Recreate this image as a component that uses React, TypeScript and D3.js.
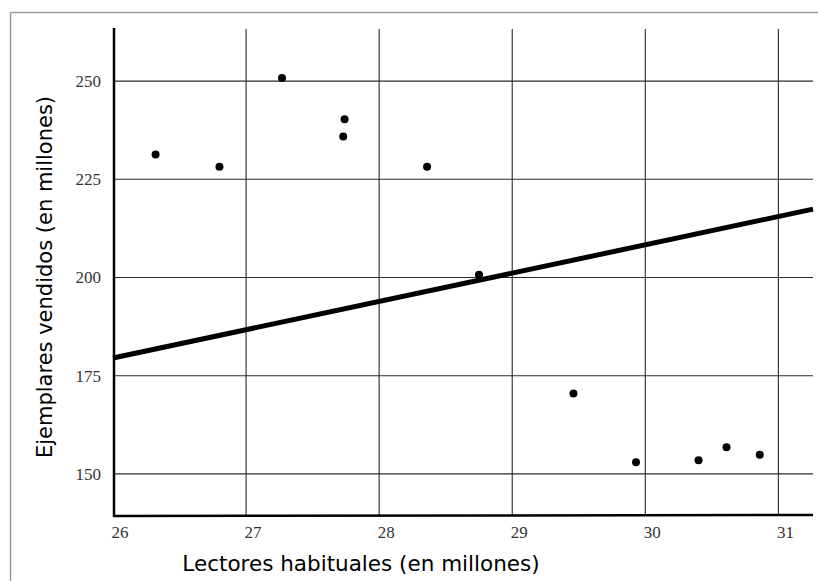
import React from "react";
import * as d3 from "d3";

const readersX: number[] = [26.32, 26.8, 27.27, 27.74, 27.73, 28.36, 28.75, 29.46, 29.93, 30.4, 30.61, 30.86];
const copiesY: number[] = [231.3, 228.2, 250.8, 240.3, 235.9, 228.2, 200.7, 170.5, 153.0, 153.5, 156.8, 154.9];
const xTicks: number[] = [26, 27, 28, 29, 30, 31];
const yTicks: number[] = [150, 175, 200, 225, 250];
const trendX: number[] = [26, 31.26];
const trendY: number[] = [179.5, 217.4];

const W = 818;
const H = 581;

export default function App() {
  const x = d3.scaleLinear().domain([26, 31.26]).range([113, 813]);
  const y = d3.scaleLinear().domain([139.3, 263.5]).range([516, 28]);
  const line = d3
    .line<number>()
    .x((_, i) => x(trendX[i]))
    .y((_, i) => y(trendY[i]));
  const labelFont = "'Liberation Serif', 'DejaVu Serif', serif";
  const titleFont = "'DejaVu Sans', Verdana, sans-serif";
  return (
    <svg
      width={W}
      height={H}
      style={{ position: "absolute", left: 0, top: 0, background: "#fff" }}
    >
      {/* frame */}
      <line x1={10.5} y1={12.5} x2={W} y2={12.5} stroke="#9a9a9a" strokeWidth={1.5} />
      <line x1={10.5} y1={12.5} x2={10.5} y2={H} stroke="#9a9a9a" strokeWidth={1.5} />

      {/* vertical grid */}
      {xTicks.slice(1).map((t) => (
        <line
          key={"vx" + t}
          x1={x(t)}
          x2={x(t)}
          y1={29}
          y2={516}
          stroke="#3a3a3a"
          strokeWidth={1.2}
        />
      ))}
      {/* horizontal grid */}
      {yTicks.map((t) => (
        <line
          key={"hy" + t}
          x1={113}
          x2={813}
          y1={y(t)}
          y2={y(t)}
          stroke="#2a2a2a"
          strokeWidth={1.2}
        />
      ))}

      {/* axes */}
      <line x1={113} x2={813} y1={516} y2={515} stroke="#000" strokeWidth={2.5} />
      <line x1={114} x2={114} y1={28} y2={517} stroke="#000" strokeWidth={2.5} />

      {/* tick labels */}
      {yTicks.map((t) => (
        <text
          key={"yl" + t}
          x={101}
          y={y(t)}
          dy="0.35em"
          textAnchor="end"
          fontFamily={labelFont}
          fontSize={17}
          fill="#333"
        >
          {t}
        </text>
      ))}
      {xTicks.map((t) => (
        <text
          key={"xl" + t}
          x={x(t) + 7}
          y={538}
          textAnchor="middle"
          fontFamily={labelFont}
          fontSize={17}
          fill="#333"
        >
          {t}
        </text>
      ))}

      {/* trend line */}
      <path d={line(trendX) || ""} fill="none" stroke="#000" strokeWidth={5} />

      {/* points */}
      {readersX.map((v, i) => (
        <circle key={"p" + i} cx={x(v)} cy={y(copiesY[i])} r={4} fill="#000" />
      ))}

      {/* titles */}
      <text
        x={361}
        y={571}
        textAnchor="middle"
        fontFamily={titleFont}
        fontSize={21.5}
        fill="#000"
      >
        Lectores habituales (en millones)
      </text>
      <text
        transform={`translate(52, 277) rotate(-90)`}
        textAnchor="middle"
        fontFamily={titleFont}
        fontSize={21}
        fill="#000"
      >
        Ejemplares vendidos (en millones)
      </text>
    </svg>
  );
}
